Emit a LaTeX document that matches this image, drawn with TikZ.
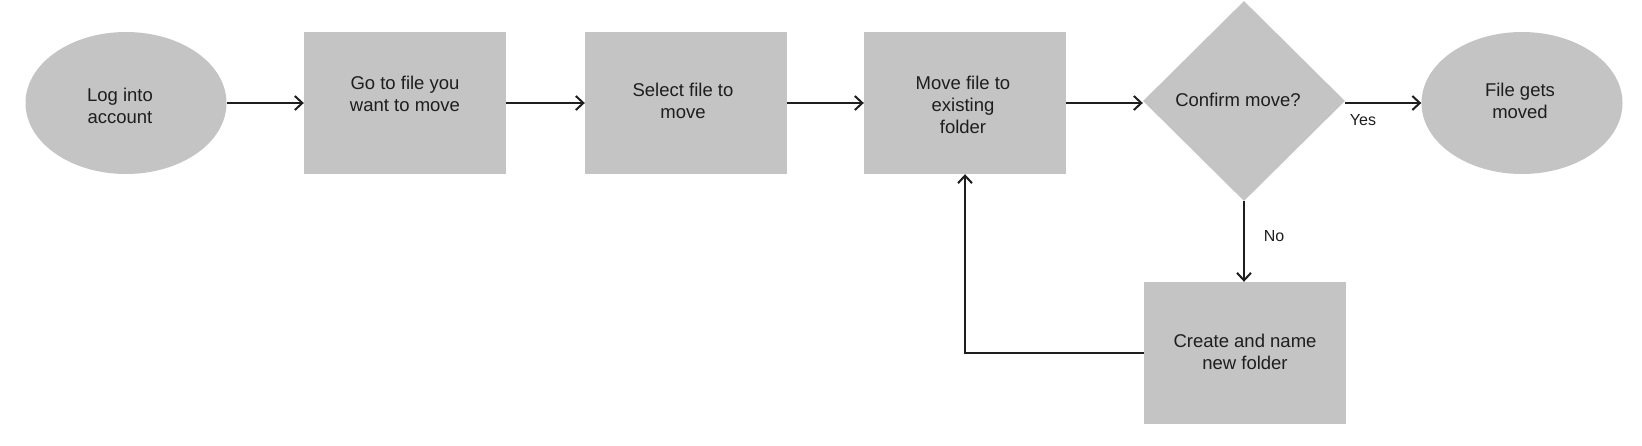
\documentclass[tikz,border=0pt]{standalone}
\usepackage{fontspec}
\setmainfont{Liberation Sans}
\usetikzlibrary{shapes.geometric,arrows.meta}
\definecolor{boxgray}{HTML}{C4C4C4}
\definecolor{inkc}{HTML}{1E1E1E}
\begin{document}
\begin{tikzpicture}[x=1pt,y=-1pt,
  shapebase/.style={fill=boxgray,draw=none,inner sep=0pt},
  procbox/.style={shapebase,rectangle,minimum width=202pt,minimum height=142pt},
  termnode/.style={shapebase,ellipse,minimum width=201pt,minimum height=142pt},
  decnode/.style={shapebase,diamond,minimum width=202pt,minimum height=200pt},
  txt/.style={text=inkc,align=center,font=\fontsize{18.5}{22}\selectfont,inner sep=0pt},
  lbl/.style={text=inkc,font=\fontsize{16}{19}\selectfont,inner sep=0pt},
  conn/.style={draw=inkc,line width=2pt,-{Straight Barb[length=7.5pt,width=14pt]}}
]
\useasboundingbox[fill=white] (0,0) rectangle (1642,445);
\node[termnode] (e1) at (126,103) {};
\node[procbox] (b1) at (405,103) {};
\node[procbox] (b2) at (686,103) {};
\node[procbox] (b3) at (965,103) {};
\node[decnode] (d) at (1244,101) {};
\node[termnode] (e2) at (1522,103) {};
\node[procbox] (b4) at (1245,353) {};

\node[txt] (e1t) at (120,106) {Log into\\account};
\node[txt] (b1t) at (405,94) {Go to file you\\want to move};
\node[txt] (b2t) at (683,101) {Select file to\\move};
\node[txt] (b3t) at (963,105) {Move file to\\existing\\folder};
\node[txt] (dt) at (1238,100) {Confirm move?};
\node[txt] (e2t) at (1520,101) {File gets\\moved};
\node[txt] (b4t) at (1245,352) {Create and name\\new folder};

\draw[conn] (e1.east) -- (b1.west);
\draw[conn] (b1.east) -- (b2.west);
\draw[conn] (b2.east) -- (b3.west);
\draw[conn] (b3.east) -- (d.west |- b3.east);
\draw[conn] (d.east |- e2.west) -- (e2.west);
\draw[conn] (d.south) -- (b4.north -| d.south);
\draw[conn] (b4.west) -| (b3.south);

\node[lbl] (yes) at (1363,120) {Yes};
\node[lbl] (no) at (1274,236) {No};
\end{tikzpicture}
\end{document}
